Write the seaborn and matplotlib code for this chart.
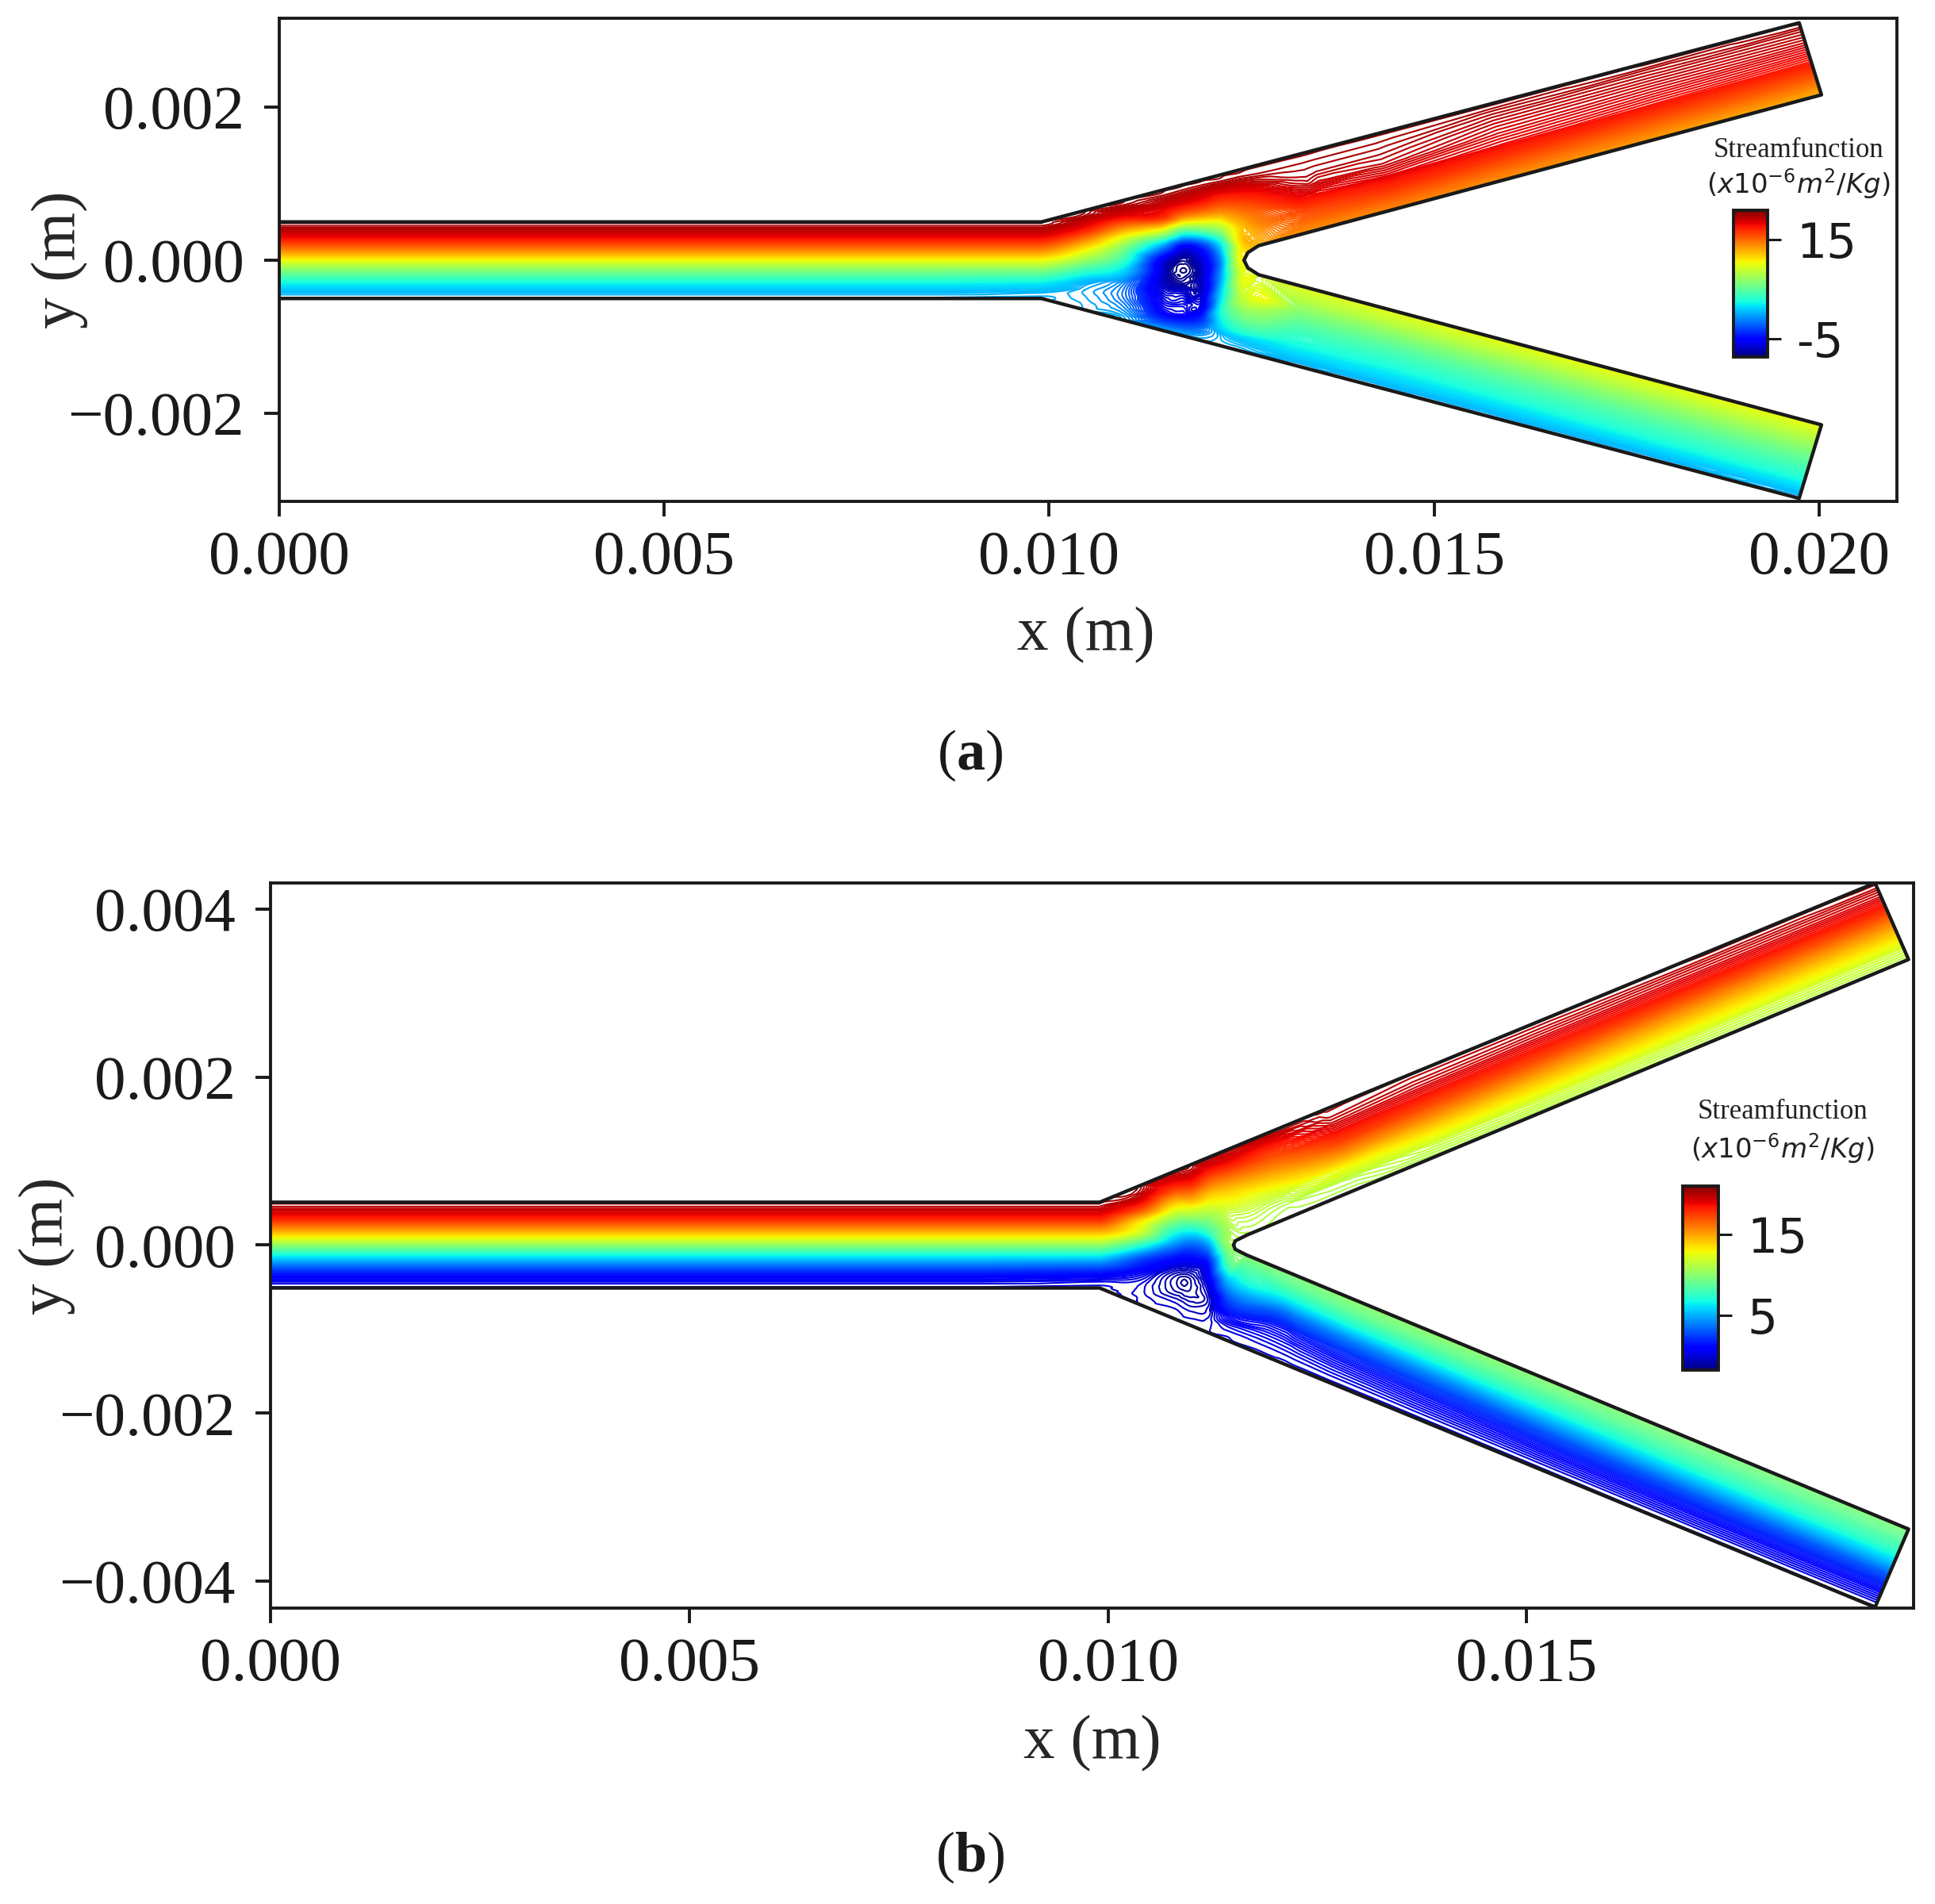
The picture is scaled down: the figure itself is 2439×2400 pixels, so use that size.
import numpy as np
import matplotlib
matplotlib.use("Agg")
import matplotlib.pyplot as plt
import matplotlib.tri as mtri
from matplotlib.cm import ScalarMappable
from matplotlib.colors import ListedColormap, Normalize
from matplotlib.path import Path
import seaborn as sns

# fractions across the channel (lower wall -> upper wall / inner wall -> outer wall)
frac_main = [0, .03, .07, .12, .2, .3, .4, .5, .6, .7, .8, .88, .93, .97, 1]
frac_branch = [0, .15, .3, .45, .6, .72, .82, .9, .95, .98, 1]

# ---- panel a, geometry (m)
wall_x_a = [0, .0099, .01974]
wall_top_a = [.0005, .0005, .0031]
wall_bot_a = [-.0005, -.0005, -.00311]
inner_x_a = [.01272, .02003]
inner_top_a = [.00019, .00216]
inner_bot_a = [-.00019, -.00215]
nose_x_a = [.01272, .01258, .01253, .01258, .01272]
nose_y_a = [.00019, .0001, 0, -.0001, -.00019]
nose_psi_a = [12.6, 11.2, 10.5, 9.8, 9.4]
cut_dx_a = .00029

# streamfunction (x10^-6 m2/Kg)
col_x_a = [0, .003, .006, .0085, .0099, .01046, .01097, .01148, .01174, .01199, .01223, .0125]
col_psi_a = [
    [0, .05, .3, .8, 2.1, 4.4, 7, 10, 13, 15.6, 17.9, 19.2, 19.7, 19.95, 20],
    [0, .05, .3, .8, 2.1, 4.4, 7, 10, 13, 15.6, 17.9, 19.2, 19.7, 19.95, 20],
    [0, .05, .3, .8, 2.1, 4.4, 7, 10, 13, 15.6, 17.9, 19.2, 19.7, 19.95, 20],
    [0, .05, .3, .8, 2.1, 4.4, 7, 10, 13, 15.6, 17.9, 19.2, 19.7, 19.95, 20],
    [0, .02, .15, .6, 1.8, 4.2, 7, 10, 13, 15.6, 17.9, 19.2, 19.7, 19.95, 20],
    [0, -.01, -.05, -.15, -.2, .7, 3.6, 7, 10.2, 13.6, 17, 18.8, 19.6, 19.95, 20],
    [0, -.2, -.7, -1.2, -1.8, -1.4, .9, 3.5, 6, 10, 15, 18.4, 19.4, 19.9, 20],
    [0, -1.5, -3.5, -5, -5.8, -6.6, -6.8, -6, -.8, 8, 16.3, 18.5, 19.4, 19.9, 20],
    [0, -1, -3, -5, -5.8, -6.8, -8.5, -8.25, -5, 5, 14.5, 18.2, 19.3, 19.85, 20],
    [0, -.4, -1.5, -3.2, -5.5, -6.6, -6.8, -6.2, -3, 6.5, 14.5, 18, 19.2, 19.85, 20],
    [0, .15, .3, 1.5, 2.5, 1, -.5, -1, 2, 8.5, 14.5, 17.5, 19.2, 19.9, 20],
    [0, .3, 1, 3.5, 6, 8.5, 9.5, 10.5, 11.5, 12.5, 15.5, 18, 19.3, 19.9, 20],
]
branch_x_a = [.0134, .0145, .016, .018, .02003]
upper_psi_a = [
    [13.5, 15, 16.3, 17.9, 19, 19.5, 19.7, 19.85, 19.93, 19.98, 20],
    [14, 15.4, 17, 18.4, 19.2, 19.5, 19.7, 19.85, 19.93, 19.98, 20],
    [13.6, 15, 16.6, 18, 18.6, 19, 19.35, 19.65, 19.88, 19.97, 20],
    [13, 14.6, 16.2, 17.7, 18.4, 18.9, 19.3, 19.6, 19.88, 19.97, 20],
    [12.5, 14.3, 16, 17.5, 18.3, 18.9, 19.3, 19.6, 19.88, 19.97, 20],
]
lower_psi_a = [
    [9.7, 8.4, 6.6, 5, 3.6, 2.6, 1.6, .8, .3, .05, 0],
    [9.9, 8.4, 6.5, 4.8, 3.4, 2.4, 1.5, .8, .25, .03, 0],
    [10, 8.4, 6.6, 5, 3.6, 2.6, 1.6, .8, .25, .03, 0],
    [10.1, 8.5, 6.8, 5.2, 3.8, 2.8, 1.7, .85, .25, .05, 0],
    [10.1, 8.6, 7, 5.4, 4, 2.9, 1.7, .85, .25, .05, 0],
]
eddy_x_a = [.01174, .01183, .01174, .01165, .01174, .01191, .01174, .01157, .01174]
eddy_y_a = [-.00014, -.00014, -.00005, -.00014, -.00023, -.00014, .00003, -.00014, -.00031]
eddy_psi_a = [-8.65, -8.45, -8.45, -8.45, -8.45, -8.1, -8.1, -8.1, -8.1]
line_step_a = .3

# ---- panel b
wall_x_b = [0, .0099, .01916]
wall_top_b = [.00051, .00051, .00431]
wall_bot_b = [-.00051, -.00051, -.00431]
inner_x_b = [.01166, .01956]
inner_top_b = [.00012, .0034]
inner_bot_b = [-.00012, -.00338]
nose_x_b = [.01166, .01152, .0115, .01152, .01166]
nose_y_b = [.00012, .00005, 0, -.00005, -.00012]
nose_psi_b = [10.9, 10.7, 10.5, 10.2, 10]
cut_dx_b = .0004

col_x_b = [0, .003, .006, .0085, .0099, .0104, .0108, .011, .0112, .01145]
col_psi_b = [
    [0, .05, .3, .8, 2.1, 4.4, 7, 10, 13, 15.6, 17.9, 19.2, 19.7, 19.95, 20],
    [0, .05, .3, .8, 2.1, 4.4, 7, 10, 13, 15.6, 17.9, 19.2, 19.7, 19.95, 20],
    [0, .05, .3, .8, 2.1, 4.4, 7, 10, 13, 15.6, 17.9, 19.2, 19.7, 19.95, 20],
    [0, .05, .3, .8, 2.1, 4.4, 7, 10, 13, 15.6, 17.9, 19.2, 19.7, 19.95, 20],
    [0, .02, .15, .6, 1.8, 4.2, 7, 10, 13, 15.6, 17.9, 19.2, 19.7, 19.95, 20],
    [0, 0, -.02, -.05, .1, 1.1, 3, 7.2, 11.5, 13.3, 17, 19.1, 19.7, 19.95, 20],
    [0, -.02, -.1, -.35, -.95, -.8, 1, 4, 7.4, 11, 14.5, 17.4, 18.8, 19.6, 20],
    [0, -.05, -.2, -.5, -1, -.95, .7, 3.2, 7.1, 11.3, 15.3, 18, 19.2, 19.8, 20],
    [0, 0, -.05, -.2, -.4, .4, 1.5, 4.5, 8.5, 11.5, 14.5, 17, 18.5, 19.5, 20],
    [0, .05, .3, 1, 2.5, 5, 8.5, 10.5, 11, 12.2, 14.5, 17, 18.6, 19.5, 20],
]
branch_x_b = [.0122, .013, .014, .0155, .0175, .01956]
upper_psi_b = [
    [10.8, 11.1, 12, 13.8, 15.6, 17, 18, 18.9, 19.5, 19.85, 20],
    [10.8, 11.3, 13, 15.5, 17.6, 18.8, 19.5, 19.85, 19.95, 19.99, 20],
    [11, 11.8, 13.5, 15.5, 17.4, 18.6, 19.3, 19.65, 19.8, 19.9, 20],
    [11.1, 12, 13.6, 15.4, 17.3, 18.5, 19.2, 19.6, 19.8, 19.92, 20],
    [11.2, 12, 13.5, 15.3, 17.2, 18.5, 19.2, 19.6, 19.88, 19.97, 20],
    [11.2, 12, 13.5, 15.3, 17.2, 18.5, 19.2, 19.6, 19.9, 19.98, 20],
]
lower_psi_b = [
    [9.8, 8.5, 6.3, 3.5, 1.6, .85, .4, .15, .04, .01, 0],
    [10.2, 8.9, 6.8, 4, 2.1, 1.2, .6, .25, .06, .01, 0],
    [10.2, 8.9, 7, 4.4, 2.4, 1.4, .75, .3, .08, .01, 0],
    [10, 8.8, 7.2, 4.9, 2.7, 1.6, .85, .35, .1, .02, 0],
    [9.8, 8.7, 7.4, 5.2, 2.9, 1.7, .9, .4, .12, .03, 0],
    [9.8, 8.7, 7.4, 5.3, 2.9, 1.7, .9, .4, .12, .03, 0],
]
eddy_x_b = [.01091, .01097, .01091, .01085, .01091]
eddy_y_b = [-.00045, -.00045, -.00039, -.00045, -.00051]
eddy_psi_b = [-1.45, -1.2, -1.2, -1.2, -1.2]
line_step_b = .2

# ticks and colour bars
xticks_a = [0, .005, .01, .015, .02]
xticks_b = [0, .005, .01, .015]
xlabels_a = ["0.000", "0.005", "0.010", "0.015", "0.020"]
xlabels_b = ["0.000", "0.005", "0.010", "0.015"]
yticks_a = [-.002, 0, .002]
ylabels_a = ["\u22120.002", "0.000", "0.002"]
yticks_b = [-.004, -.002, 0, .002, .004]
ylabels_b = ["\u22120.004", "\u22120.002", "0.000", "0.002", "0.004"]
cbar_ticks_a = [-5, 15]
cbar_ticks_b = [5, 15]

W, H = 2439, 2400
sns.set_theme(style="ticks")
plt.rcParams["font.family"] = "Liberation Serif"
plt.rcParams["mathtext.fontset"] = "custom"
plt.rcParams["mathtext.rm"] = "DejaVu Sans"
plt.rcParams["mathtext.it"] = "DejaVu Sans:italic"
plt.rcParams["mathtext.bf"] = "Liberation Serif:bold"
jet = ListedColormap(sns.mpl_palette("jet", 256))


def px_axes(fig, left, top, right, bottom):
    return fig.add_axes([left / W, 1 - bottom / H, (right - left) / W, (bottom - top) / H])


def draw_panel(ax, p, vmin, vmax):
    xs, ys, zs = [], [], []
    # vertical sections through inlet and junction
    for x0, row in zip(p["col_x"], p["col_psi"]):
        lo = np.interp(x0, p["wall_x"], p["wall_bot"])
        up = np.interp(x0, p["wall_x"], p["wall_top"])
        xs += [x0] * len(frac_main)
        ys += list(lo + (up - lo) * np.array(frac_main))
        zs += list(row)
    # sections through both branches
    f = np.array(frac_branch)
    for wall, inner, rows in [(p["wall_top"], p["inner_top"], p["upper_psi"]),
                              (p["wall_bot"], p["inner_bot"], p["lower_psi"])]:
        for xi, row in zip(p["branch_x"], rows):
            xo = xi - p["cut_dx"]
            yi = np.interp(xi, p["inner_x"], inner)
            yo = np.interp(xo, p["wall_x"], wall)
            xs += list(xi + (xo - xi) * f)
            ys += list(yi + (yo - yi) * f)
            zs += list(row)
    xs += list(p["nose_x"]) + list(p["eddy_x"])
    ys += list(p["nose_y"]) + list(p["eddy_y"])
    zs += list(p["nose_psi"]) + list(p["eddy_psi"])

    # outline of the channel
    out_x = [0, p["wall_x"][1], p["wall_x"][2], p["inner_x"][1]] + list(p["nose_x"]) + \
            [p["inner_x"][1], p["wall_x"][2], p["wall_x"][1], 0]
    out_y = [p["wall_top"][0], p["wall_top"][1], p["wall_top"][2], p["inner_top"][1]] + list(p["nose_y"]) + \
            [p["inner_bot"][1], p["wall_bot"][2], p["wall_bot"][1], p["wall_bot"][0]]

    tri = mtri.Triangulation(np.array(xs), np.array(ys))
    cx = tri.x[tri.triangles].mean(axis=1)
    cy = tri.y[tri.triangles].mean(axis=1)
    inside = Path(np.column_stack([out_x + out_x[:1], out_y + out_y[:1]])).contains_points(np.column_stack([cx, cy]))
    tri.set_mask(~inside)

    # straight streamlines in the channels, smooth ones only around the junction
    z = np.array(zs)
    refiner = mtri.UniformTriRefiner(tri)
    tri_f, z_lin = refiner.refine_field(z, triinterpolator=mtri.LinearTriInterpolator(tri, z), subdiv=3)
    _, z_cub = refiner.refine_field(z, triinterpolator=mtri.CubicTriInterpolator(tri, z, kind="geom"), subdiv=3)
    near = (tri_f.x > p["col_x"][4]) & (tri_f.x < p["branch_x"][0])
    z_f = np.where(near, z_cub, z_lin)

    # wider spacing inside the separation bubbles (thin lines on white)
    levels = np.r_[np.arange(vmin + .1, p["low_lim"], .15), np.arange(p["low_lim"], 0, p["line_step"]),
                   np.arange(.02, vmax, .15)]
    ax.tricontour(tri_f, z_f, levels=levels, cmap=jet, vmin=vmin, vmax=vmax, linewidths=1.5)

    # walls
    sns.lineplot(x=out_x, y=out_y, sort=False, estimator=None, color="k", lw=3.2, ax=ax, legend=False)


def style_axes(ax, xt, xl, yt, yl, xlim, ylim, x_lab, y_lab):
    ax.set_xlim(xlim)
    ax.set_ylim(ylim)
    ax.set_xticks(xt, xl, fontsize=57)
    ax.set_yticks(yt, yl, fontsize=57)
    ax.tick_params(length=14, width=2.8, pad=12, colors="k")
    ax.tick_params(axis="y", pad=18)
    for s in ax.spines.values():
        s.set_linewidth(2.8)
        s.set_color("k")
    ax.set_xlabel("x (m)", fontsize=57, va="center")
    ax.set_ylabel("y (m)", fontsize=57, va="center")
    ax.xaxis.set_label_coords(*x_lab)
    ax.yaxis.set_label_coords(*y_lab)


def add_cbar(fig, box, vmin, vmax, ticks, cx, y1, y2):
    cax = px_axes(fig, *box)
    sm = ScalarMappable(norm=Normalize(vmin, vmax), cmap=jet)
    cb = fig.colorbar(sm, cax=cax, ticks=ticks)
    cb.ax.set_yticklabels([str(t) for t in ticks], family="DejaVu Sans", fontsize=43)
    cb.ax.tick_params(length=12, width=2.2, pad=14, colors="k")
    cb.outline.set_linewidth(2.8)
    cb.outline.set_edgecolor("k")
    fig.text(cx / W, 1 - y1 / H, "Streamfunction", fontsize=25, ha="center", va="center", color="#222222")
    fig.text(cx / W, 1 - y2 / H, r"$(x10^{-6}m^2/Kg)$", fontsize=24.5, ha="center", va="center", color="#222222")


panel_a = dict(wall_x=wall_x_a, wall_top=wall_top_a, wall_bot=wall_bot_a, inner_x=inner_x_a,
               inner_top=inner_top_a, inner_bot=inner_bot_a, nose_x=nose_x_a, nose_y=nose_y_a,
               nose_psi=nose_psi_a, cut_dx=cut_dx_a, col_x=col_x_a, col_psi=col_psi_a,
               branch_x=branch_x_a, upper_psi=upper_psi_a, lower_psi=lower_psi_a,
               eddy_x=eddy_x_a, eddy_y=eddy_y_a, eddy_psi=eddy_psi_a,
               low_lim=-3.2, line_step=line_step_a)
panel_b = dict(wall_x=wall_x_b, wall_top=wall_top_b, wall_bot=wall_bot_b, inner_x=inner_x_b,
               inner_top=inner_top_b, inner_bot=inner_bot_b, nose_x=nose_x_b, nose_y=nose_y_b,
               nose_psi=nose_psi_b, cut_dx=cut_dx_b, col_x=col_x_b, col_psi=col_psi_b,
               branch_x=branch_x_b, upper_psi=upper_psi_b, lower_psi=lower_psi_b,
               eddy_x=eddy_x_b, eddy_y=eddy_y_b, eddy_psi=eddy_psi_b,
               low_lim=-1.7, line_step=line_step_b)

fig = plt.figure(figsize=(W / 100, H / 100), dpi=100, facecolor="white")

ax1 = px_axes(fig, 352, 23, 2391, 632)
draw_panel(ax1, panel_a, -8.7, 20.9)
style_axes(ax1, xticks_a, xlabels_a, yticks_a, ylabels_a, (0, .02101), (-.00315, .00316),
           (.4988, -169 / 609), (-277 / 2039, .5))
add_cbar(fig, (2185, 265, 2228, 450), -8.7, 20.9, cbar_ticks_a, 2267, 190, 232)

ax2 = px_axes(fig, 341, 1113, 2412, 2027)
draw_panel(ax2, panel_b, -1.76, 21)
style_axes(ax2, xticks_b, xlabels_b, yticks_b, ylabels_b, (0, .01962), (-.00432, .00431),
           (.5, -171 / 914), (-282 / 2071, .5))
add_cbar(fig, (2121, 1495, 2166, 1727), -1.76, 21, cbar_ticks_b, 2247, 1402, 1448)

fig.text(1223 / W, 1 - 952 / H, r"($\mathbf{a}$)", fontsize=52, ha="center", va="center", color="k")
fig.text(1223 / W, 1 - 2341 / H, r"($\mathbf{b}$)", fontsize=52, ha="center", va="center", color="k")

fig.savefig("out.png", dpi=100)
